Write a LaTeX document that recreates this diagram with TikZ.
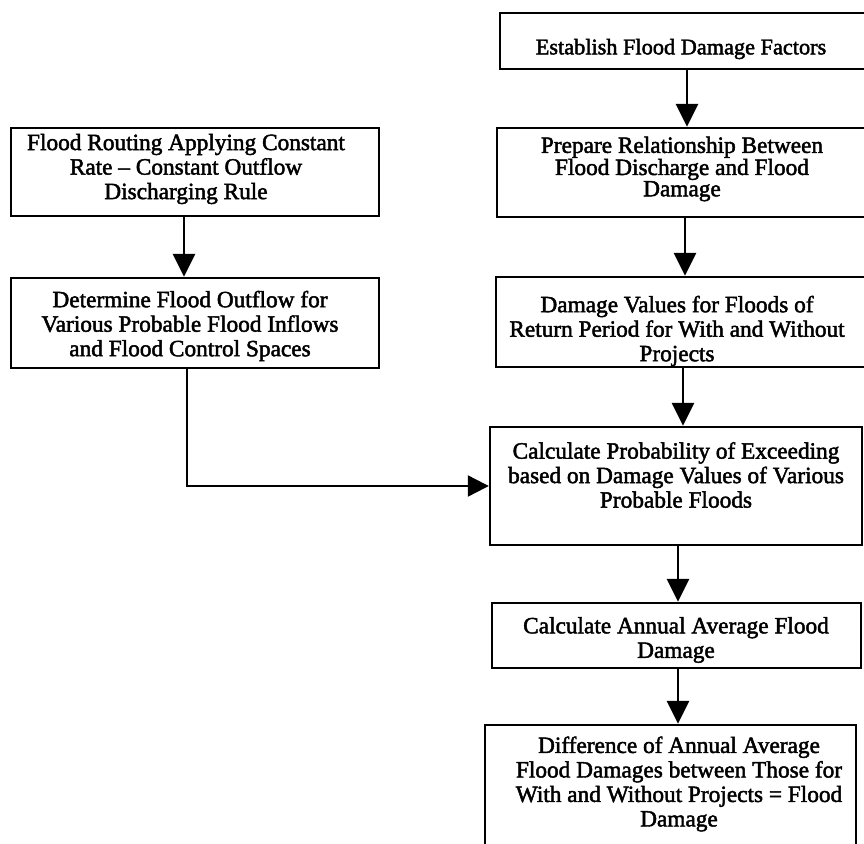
\documentclass[tikz,border=0pt]{standalone}
\usepackage{fontspec}
\setmainfont{Liberation Serif}[BoldFont=Liberation Serif,BoldFeatures={FakeBold=2}]
\usetikzlibrary{arrows.meta}
\begin{document}
\begin{tikzpicture}[x=1pt,y=-1pt,
  frame/.style={draw, line width=2.4pt, inner sep=0pt},
  txt/.style={align=center, inner sep=0pt, font=\fontsize{23.3}{24.5}\selectfont\bfseries},
  tight/.style={font=\fontsize{23.3}{19.5}\selectfont\bfseries},
  small/.style={font=\fontsize{22.3}{24.5}\selectfont\bfseries},
  arr/.style={line width=2.8pt, -{Triangle[length=23pt,width=22pt]}},
  link/.style={line width=2.2pt, -{Triangle[length=21pt,width=21pt]}}
]
\clip (0,0) rectangle (864,843);
\fill[white] (0,0) rectangle (864,843);

% right column boxes
\node[frame, minimum width=366pt, minimum height=56pt] (b1) at (683,41) {};
\node[frame, minimum width=369pt, minimum height=89pt] (b2) at (681.5,172.5) {};
\node[frame, minimum width=370pt, minimum height=90pt] (b3) at (681,322) {};
\node[frame, minimum width=372pt, minimum height=118pt] (b4) at (676,486) {};
\node[frame, minimum width=369pt, minimum height=65pt] (b5) at (676.5,635.5) {};
\node[frame, minimum width=371pt, minimum height=145pt] (b6) at (670.5,797.5) {};
% left column boxes
\node[frame, minimum width=368pt, minimum height=88pt] (l1) at (195,172) {};
\node[frame, minimum width=368pt, minimum height=90pt] (l2) at (195,323) {};

% texts
\node[txt, small] (t1) at (681,49) {Establish Flood Damage Factors};
\node[txt, tight] (t2) at (682,169) {Prepare Relationship Between\\Flood Discharge and Flood\\Damage};
\node[txt] (t3) at (677,331) {Damage Values for Floods of\\Return Period for With and Without\\Projects};
\node[txt] (t4) at (676,475) {Calculate Probability of Exceeding\\based on Damage Values of Various\\Probable Floods};
\node[txt] (t5) at (676,640) {Calculate Annual Average Flood\\Damage};
\node[txt] (t6) at (679,784) {Difference of Annual Average\\Flood Damages between Those for\\With and Without Projects = Flood\\Damage};
\node[txt] (tl1) at (186,169) {Flood Routing Applying Constant\\Rate -- Constant Outflow\\Discharging Rule};
\node[txt] (tl2) at (190,326) {Determine Flood Outflow for\\Various Probable Flood Inflows\\and Flood Control Spaces};

% arrow positions
\coordinate (a1) at (687,0);
\coordinate (a2) at (685,0);
\coordinate (a3) at (683,0);
\coordinate (a4) at (678,0);
\coordinate (a5) at (678,0);
\coordinate (al) at (184,0);
\coordinate (ac) at (187,0);

\draw[arr] (b1.south -| a1) -- (b2.north -| a1);
\draw[arr] (b2.south -| a2) -- (b3.north -| a2);
\draw[arr] (b3.south -| a3) -- (b4.north -| a3);
\draw[arr] (b4.south -| a4) -- (b5.north -| a4);
\draw[arr] (b5.south -| a5) -- (b6.north -| a5);
\draw[arr] (l1.south -| al) -- (l2.north -| al);
\draw[link] (l2.south -| ac) |- (b4.west);
\end{tikzpicture}
\end{document}
